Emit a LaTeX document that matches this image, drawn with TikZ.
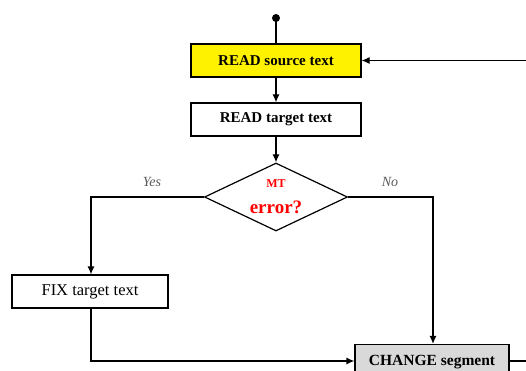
\documentclass[tikz,border=0pt]{standalone}
\usepackage{fontspec}
\setmainfont{Liberation Serif}
\usetikzlibrary{shapes.geometric,arrows.meta}
\definecolor{boxgray}{RGB}{217,217,217}
\definecolor{lblgray}{RGB}{90,90,90}
\tikzset{
  procbox/.style={draw=black,line width=1.2pt,minimum width=170pt,minimum height=33pt,inner sep=0pt,font=\fontsize{15}{17}\selectfont},
  conn/.style={line width=1.2pt,-{Latex[length=8pt,width=7pt]}},
  plain/.style={line width=1.2pt},
  lbl/.style={font=\itshape\fontsize{14}{16}\selectfont,text=lblgray}
}
\begin{document}
\begin{tikzpicture}[x=1pt,y=-1pt]
\useasboundingbox (0,0) rectangle (526,371);
\clip (0,0) rectangle (526,371);
\fill (276,18) circle (4);
\coordinate (startc) at (276,18);
\node[procbox,fill=yellow] (src) at (276,60.5) {\textbf{READ source text}};
\node[procbox] (tgt) at (276,119.5) {\textbf{READ target text}};
\node[draw=black,line width=1.2pt,diamond,minimum width=143pt,minimum height=68pt,inner sep=0pt,aspect=2.1] (dec) at (276,197) {};
\node[text=red,font=\bfseries\fontsize{12}{14}\selectfont] (mt) at (276,184) {MT};
\node[text=red,font=\bfseries\fontsize{19}{21}\selectfont] (err) at (276,207) {error?};
\node[procbox,minimum width=156pt,font=\fontsize{16.5}{18}\selectfont] (fix) at (90,291.5) {FIX target text};
\node[procbox,minimum width=154pt,fill=boxgray] (chg) at (432,361) {};
\node[font=\bfseries\fontsize{15.5}{17}\selectfont] (chgt) at (432,362) {CHANGE segment};
\node[lbl] (yes) at (152,182) {Yes};
\node[lbl] (no) at (390,182) {No};
\coordinate (rin) at (526,60.5);
\coordinate (rout) at (526,361);
\coordinate (yc) at (91,197);
\coordinate (nc) at (433,197);
\coordinate (fc) at (91,361);
\draw[plain] (startc) -- (src.north);
\draw[conn] (rin) -- (src.east);
\draw[conn] (src.south) -- (tgt.north);
\draw[conn] (tgt.south) -- (dec.north);
\draw[conn] (dec.west) -- (yc) -- (fix.north -| yc);
\draw[conn] (dec.east) -- (nc) -- (chg.north -| nc);
\draw[conn] (fix.south -| fc) -- (fc) -- (chg.west);
\draw[plain] (chg.east) -- (rout);
\end{tikzpicture}
\end{document}
